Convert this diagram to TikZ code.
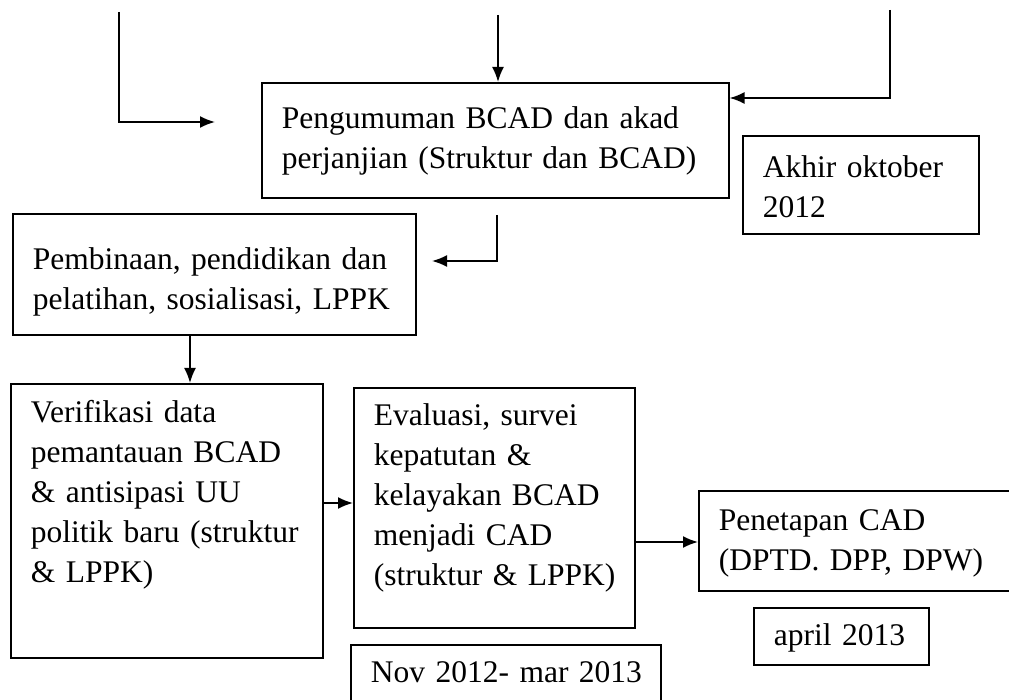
\documentclass[tikz,border=0pt]{standalone}
\usepackage{fontspec}
\setmainfont{Liberation Serif}
\usetikzlibrary{arrows.meta}

\tikzset{
  kotak/.style={draw, line width=1.6pt, anchor=north west, align=left,
    inner xsep=20pt, inner ysep=8pt, font=\fontsize{31.5}{40}\selectfont},
  panah/.style={line width=1.8pt, -{Latex[length=15pt,width=12pt]}}
}

\begin{document}
\begin{tikzpicture}[x=1pt, y=-1pt]
  \useasboundingbox (0,0) rectangle (1009,700);

  % Kotak-kotak
  \node[kotak, text width=427pt, text height=38pt, text depth=61pt] (pengumuman) at (261,82)
    {Pengumuman BCAD dan akad\\perjanjian (Struktur dan BCAD)};
  \node[kotak, text width=196pt, text height=34pt, text depth=48pt] (akhir) at (742,135)
    {Akhir oktober\\2012};
  \node[kotak, text width=363pt, text height=48pt, text depth=57pt] (pembinaan) at (12,213)
    {Pembinaan, pendidikan dan\\pelatihan, sosialisasi, LPPK};
  \node[kotak, text width=272pt, text height=31pt, text depth=227pt] (verifikasi) at (10,383)
    {Verifikasi data\\pemantauan BCAD\\\& antisipasi UU\\\mbox{politik baru (struktur}\\\& LPPK)};
  \node[kotak, text width=241pt, text height=30pt, text depth=194pt] (evaluasi) at (353,387)
    {Evaluasi, survei\\kepatutan \&\\kelayakan BCAD\\menjadi CAD\\\mbox{(struktur \& LPPK)}};
  \node[kotak, text width=270pt, text height=30pt, text depth=30pt] (nov) at (350,644)
    {\mbox{Nov 2012- mar 2013}};
  \node[kotak, text width=290pt, text height=32pt, text depth=52pt] (penetapan) at (698,490)
    {Penetapan CAD\\(DPTD. DPP, DPW)};
  \node[kotak, text width=135pt, text height=30pt, text depth=11pt] (april) at (753,607)
    {april 2013};

  % Panah dari atas
  \coordinate (kiri) at (119,12);
  \coordinate (kiribelok) at (119,122);
  \coordinate (kiriujung) at (215,122);
  \draw[panah] (kiri) -- (kiribelok) -- (kiriujung);

  \coordinate (tengah) at (498,15);
  \draw[panah] (tengah) -- (tengah |- pengumuman.north);

  \coordinate (kanan) at (890,10);
  \coordinate (kananbelok) at (890,98);
  \draw[panah] (kanan) -- (kananbelok) -- (kananbelok -| pengumuman.east);

  % Panah ke pembinaan
  \coordinate (turun) at (497,215);
  \coordinate (turunbelok) at (497,261);
  \coordinate (turunujung) at (432,261);
  \draw[panah] (turun) -- (turunbelok) -- (turunujung);

  % Panah bawah
  \coordinate (sumbu) at (190,0);
  \draw[panah] (sumbu |- pembinaan.south) -- (sumbu |- verifikasi.north);

  \coordinate (tinggi1) at (0,503);
  \draw[panah] (tinggi1 -| verifikasi.east) -- (tinggi1 -| evaluasi.west);

  \coordinate (tinggi2) at (0,542);
  \draw[panah] (tinggi2 -| evaluasi.east) -- (tinggi2 -| penetapan.west);
\end{tikzpicture}
\end{document}
